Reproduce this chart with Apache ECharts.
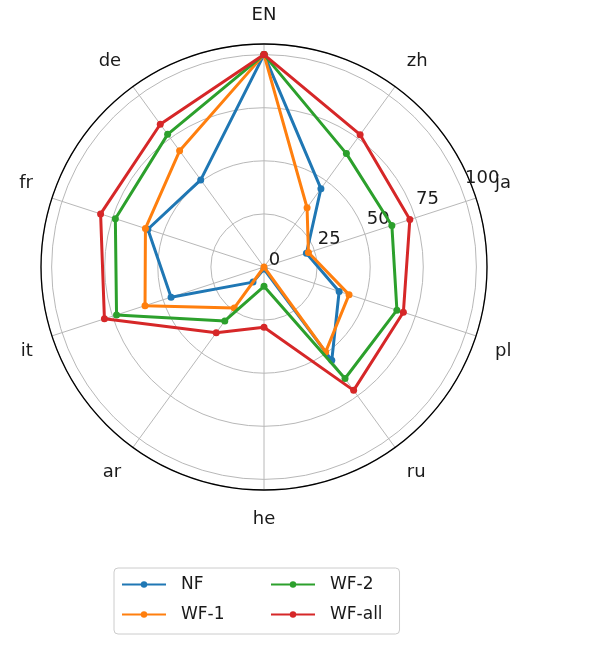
<!DOCTYPE html>
<html>
<head>
<meta charset="utf-8">
<script src="https://cdn.jsdelivr.net/npm/echarts@6/dist/echarts.min.js"></script>
<style>
html,body{margin:0;padding:0;background:#fff;}
#c{width:602px;height:648px;}
</style>
</head>
<body>
<div id="c"></div>
<script>
const categories = ['EN','zh','ja','pl','ru','he','ar','it','fr','de'];
const radialTicks = [0, 25, 50, 75, 100];
const seriesNames = ['NF','WF-1','WF-2','WF-all'];
const NF    = [100, 45.6, 21, 37.2, 54.3, 1,   8.8, 46,   57.5, 50.7];
const WF1   = [100, 34.5, 22, 42.1, 49.4, 0,  23.8, 58.9, 58.7, 67.6];
const WF2   = [100, 66,  63.3, 65.8, 64.9, 9.1, 31.4, 73,  73.6, 77.2];
const WFall = [100, 77,  72.2, 69,  71.8, 28.4, 38.3, 79,  80.9, 83.1];
const colors = ['#1f77b4','#ff7f0e','#2ca02c','#d62728'];
const values = [NF, WF1, WF2, WFall];

const step = 360 / categories.length;
function toPolar(arr){
  const d = arr.map((v,i)=>[v, i*step]);
  d.push([arr[0], 360]);
  return d;
}
const font = 'DejaVu Sans';
const center = [264, 267];
const R = 223;

const option = {
  animation: false,
  backgroundColor: '#fff',
  polar: [
    {center: center, radius: R},
    {center: center, radius: R}
  ],
  angleAxis: [
    {
      polarIndex: 0, type: 'value', min: 0, max: 360, interval: step,
      startAngle: 90, clockwise: true,
      axisLine: {show: false},
      axisTick: {show: false},
      splitLine: {show: true, lineStyle: {color: '#b8b8b8', width: 1}},
      axisLabel: {
        show: true, margin: 20,
        color: '#1a1a1a', fontFamily: font, fontSize: 18,
        formatter: function(v){ const i = Math.round(v/step); return i < categories.length ? categories[i] : ''; }
      }
    },
    {
      polarIndex: 1, type: 'value', min: 0, max: 360,
      startAngle: 22.5, clockwise: false, z: 5,
      axisLine: {show: true, lineStyle: {color: '#000', width: 1.3}},
      axisTick: {show: false},
      splitLine: {show: false},
      axisLabel: {show: false}
    }
  ],
  radiusAxis: [
    {
      polarIndex: 0, type: 'value', min: 0, max: 105, interval: 25,
      axisLine: {show: false}, axisTick: {show: false},
      axisLabel: {show: false},
      splitLine: {show: true, lineStyle: {color: '#b8b8b8', width: 1}}
    },
    {
      polarIndex: 1, type: 'value', min: 0, max: 105, interval: 25, z: 6,
      axisLine: {show: false}, axisTick: {show: false},
      splitLine: {show: false},
      axisLabel: {
        show: true, margin: -2, align: 'left', verticalAlign: 'bottom',
        padding: [0, 0, 0, 4],
        color: '#1a1a1a', fontFamily: font, fontSize: 18,
        formatter: function(v){ return radialTicks.indexOf(v) >= 0 ? String(v) : ''; }
      }
    }
  ],
  legend: [
    {
      data: [seriesNames[0], seriesNames[1]],
      orient: 'vertical', left: 114, top: 568,
      padding: [8, 175, 11, 7],
      itemWidth: 44, itemHeight: 8, itemGap: 13,
      borderColor: '#cccccc', borderWidth: 1, borderRadius: 4,
      textStyle: {fontFamily: font, fontSize: 17, color: '#1a1a1a', padding: [0,0,0,10], lineHeight: 16}
    },
    {
      data: [seriesNames[2], seriesNames[3]],
      orient: 'vertical', left: 270, top: 576,
      padding: 0,
      itemWidth: 44, itemHeight: 8, itemGap: 13,
      textStyle: {fontFamily: font, fontSize: 17, color: '#1a1a1a', padding: [0,0,0,10], lineHeight: 16}
    }
  ],
  series: values.map((arr, k) => ({
    name: seriesNames[k],
    type: 'line',
    coordinateSystem: 'polar',
    polarIndex: 0,
    data: toPolar(arr),
    symbol: 'circle',
    symbolSize: 7,
    showSymbol: true,
    z: 10 + k,
    color: colors[k],
    lineStyle: {width: 3, color: colors[k]},
    itemStyle: {color: colors[k]}
  }))
};
const chart = echarts.init(document.getElementById('c'), null, {renderer: 'canvas'});
chart.setOption(option);
</script>
</body>
</html>
